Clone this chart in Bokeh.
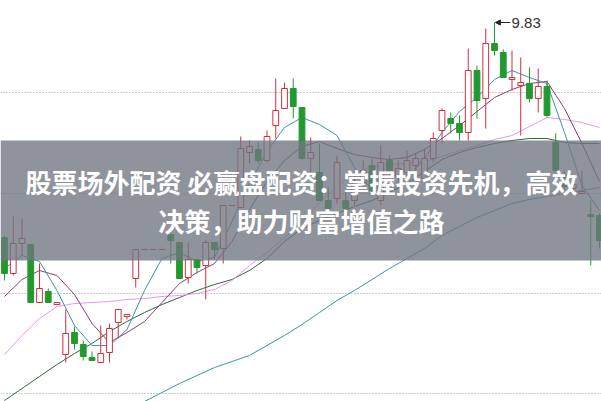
from bokeh.plotting import figure
from bokeh.models import Range1d, FixedTicker, BoxAnnotation, Label, Arrow, NormalHead, ColumnDataSource
from bokeh.embed import file_html
from bokeh.resources import INLINE

# ---- candle data (price units) ----
opens = [8.755, 8.575, 8.725, 8.72, 8.43, 8.485, 8.42, 8.17, 8.28, 8.22,
         8.155, 8.13, 8.18, 8.33, 8.36, 8.55, 8.695, 8.695, 8.695, 8.77,
         8.73, 8.555, 8.645, 8.615, 8.73, 8.70, 8.915, 8.905, 9.18, 9.195,
         9.14, 9.315, 9.40, 9.50, 9.405, 9.15, 9.08, 8.94, 8.95, 8.94,
         8.94, 9.03, 9.115, 8.94, 9.14, 9.06, 9.08, 9.115, 9.05, 9.15,
         9.29, 9.35, 9.325, 9.28, 9.59, 9.45, 9.725, 9.68, 9.545, 9.515,
         9.525, 9.45, 9.51, 9.23, 9.07, 9.00, 8.975, 8.87, 8.865]
highs = [8.765, 8.865, 8.85, 8.72, 8.625, 8.50, 8.43, 8.395, 8.31, 8.24,
         8.185, 8.315, 8.325, 8.395, 8.37, 8.695, 8.695, 8.695, 8.695, 8.795,
         8.73, 8.73, 8.645, 8.745, 8.73, 8.915, 8.915, 9.26, 9.24, 9.23,
         9.29, 9.55, 9.53, 9.55, 9.405, 9.255, 9.225, 9.005, 9.165, 8.99,
         9.09, 9.14, 9.15, 9.215, 9.165, 9.14, 9.19, 9.175, 9.20, 9.28,
         9.40, 9.38, 9.365, 9.70, 9.615, 9.80, 9.83, 9.695, 9.69, 9.655,
         9.605, 9.60, 9.54, 9.275, 9.085, 9.04, 9.09, 8.94, 8.875]
lows = [8.54, 8.565, 8.665, 8.43, 8.43, 8.43, 8.42, 8.13, 8.195, 8.14,
        8.14, 8.13, 8.13, 8.25, 8.345, 8.505, 8.695, 8.695, 8.695, 8.625,
        8.55, 8.525, 8.575, 8.445, 8.645, 8.625, 8.915, 8.905, 9.125, 9.125,
        9.13, 9.25, 9.40, 9.35, 9.14, 9.075, 8.94, 8.89, 8.925, 8.79,
        8.915, 8.99, 8.965, 8.915, 9.065, 9.015, 9.05, 9.09, 9.04, 9.13,
        9.225, 9.275, 9.24, 9.24, 9.35, 9.30, 9.665, 9.555, 9.49, 9.265,
        9.43, 9.38, 9.355, 9.08, 8.99, 8.985, 8.97, 8.615, 8.70]
closes = [8.575, 8.725, 8.75, 8.43, 8.50, 8.43, 8.43, 8.275, 8.225, 8.16,
          8.14, 8.175, 8.30, 8.395, 8.37, 8.695, 8.695, 8.695, 8.695, 8.74,
          8.55, 8.645, 8.605, 8.73, 8.695, 8.915, 8.915, 9.20, 9.21, 9.14,
          9.26, 9.39, 9.50, 9.41, 9.15, 9.18, 8.94, 8.90, 9.13, 8.90,
          9.025, 9.09, 8.99, 9.13, 9.09, 9.10, 9.14, 9.15, 9.15, 9.25,
          9.39, 9.325, 9.28, 9.59, 9.44, 9.725, 9.69, 9.555, 9.555, 9.53,
          9.45, 9.51, 9.365, 9.09, 9.01, 9.02, 8.985, 8.86, 8.74]

# ---- moving averages ----
ma_idx = list(range(0, 69, 2))
ma5 = [8.60, 8.665, 8.635, 8.49, 8.315, 8.215, 8.215, 8.295, 8.49, 8.65,
       8.68, 8.635, 8.655, 8.835, 9.025, 9.185, 9.305, 9.355, 9.32, 9.265,
       9.105, 8.99, 8.98, 9.05, 9.15, 9.28, 9.385, 9.455, 9.545, 9.59,
       9.555, 9.525, 9.28, 9.015, 8.89]
ma10 = [8.46, 8.545, 8.59, 8.565, 8.47, 8.325, 8.23, 8.28, 8.335, 8.43,
        8.525, 8.58, 8.625, 8.735, 8.895, 9.035, 9.14, 9.21, 9.235, 9.20,
        9.17, 9.155, 9.145, 9.155, 9.195, 9.25, 9.315, 9.385, 9.455, 9.495,
        9.525, 9.535, 9.40, 9.225, 9.035]
ma20 = [8.17, 8.265, 8.35, 8.41, 8.425, 8.43, 8.435, 8.445, 8.45, 8.46,
        8.465, 8.475, 8.495, 8.54, 8.615, 8.68, 8.755, 8.835, 8.93, 9.01,
        9.08, 9.11, 9.12, 9.125, 9.135, 9.16, 9.19, 9.215, 9.245, 9.265,
        9.31, 9.355, 9.345, 9.33, 9.305]
ma30 = [7.94, 8.00, 8.06, 8.12, 8.175, 8.225, 8.285, 8.335, 8.38, 8.42,
        8.455, 8.49, 8.52, 8.545, 8.59, 8.65, 8.735, 8.80, 8.84, 8.875,
        8.91, 8.94, 8.98, 9.025, 9.085, 9.145, 9.18, 9.205, 9.225, 9.24,
        9.25, 9.25, 9.23, 9.225, 9.225]
ma60_idx = list(range(14, 69, 2))
ma60 = [7.89, 7.935, 7.98, 8.025, 8.065, 8.105, 8.135, 8.165, 8.215, 8.265,
        8.32, 8.38, 8.44, 8.49, 8.545, 8.60, 8.65, 8.70, 8.765, 8.81,
        8.855, 8.89, 8.925, 8.945, 8.96, 8.975, 8.99, 9.005]

grid_levels = [9.48, 8.975, 8.475, 7.975]
high_label = "9.83"
title_line1 = "股票场外配资 必赢盘配资：掌握投资先机，高效"
title_line2 = "决策，助力财富增值之路"

RED = "#d2303e"
GREEN = "#22992e"

p = figure(width=601, height=401, output_backend="svg", toolbar_location=None,
           x_range=Range1d(-0.457, 68.229), y_range=Range1d(7.935, 9.94),
           min_border=0)
p.xaxis.visible = False
p.yaxis.visible = False
p.xgrid.visible = False
p.ygrid.ticker = FixedTicker(ticks=grid_levels)
p.ygrid.grid_line_color = "#9a9a9a"
p.ygrid.grid_line_dash = "1 2"
p.ygrid.grid_line_width = 1
p.outline_line_color = None
p.background_fill_color = "white"
p.border_fill_color = "white"

idx = list(range(len(opens)))
colors = [RED if c >= o else GREEN for o, c in zip(opens, closes)]
fills = ["white" if c >= o else GREEN for o, c in zip(opens, closes)]
tops = [max(o, c) for o, c in zip(opens, closes)]
bots = [min(o, c) for o, c in zip(opens, closes)]

src = ColumnDataSource(dict(x=idx, o=opens, h=highs, l=lows, c=closes,
                            color=colors, fill=fills, top=tops, bot=bots))

# moving averages
p.line(ma60_idx, ma60, line_color="#3f95a6", line_width=1)
p.line(ma_idx, ma30, line_color="#2f6a3c", line_width=1)
p.line(ma_idx, ma20, line_color="#e49be6", line_width=1)
p.line(ma_idx, ma10, line_color="#8c3d7f", line_width=1)
p.line(ma_idx, ma5, line_color="#3d96a8", line_width=1)

# candles
p.segment(x0="x", y0="h", x1="x", y1="l", line_color="color", line_width=1, source=src)
flat = [i for i in idx if opens[i] == closes[i]]
body = [i for i in idx if opens[i] != closes[i]]
bsrc = ColumnDataSource(dict(x=[idx[i] for i in body], top=[tops[i] for i in body],
                             bot=[bots[i] for i in body], color=[colors[i] for i in body],
                             fill=[fills[i] for i in body]))
p.vbar(x="x", top="top", bottom="bot", width=0.66, fill_color="fill",
       line_color="color", line_width=1, source=bsrc)
fsrc = ColumnDataSource(dict(x0=[idx[i] - 0.36 for i in flat], x1=[idx[i] + 0.36 for i in flat],
                             y=[closes[i] for i in flat]))
p.segment(x0="x0", y0="y", x1="x1", y1="y", line_color=RED, line_width=1, source=fsrc)

# high marker
hi_i = max(idx, key=lambda i: highs[i])
p.add_layout(Arrow(end=NormalHead(size=5, fill_color="#222222", line_color="#222222"),
                   x_start=hi_i + 1.8, y_start=highs[hi_i], x_end=hi_i + 0.1, y_end=highs[hi_i],
                   line_color="#222222", line_width=1))
p.add_layout(Label(x=hi_i + 1.95, y=highs[hi_i], text=high_label, text_font="Liberation Sans",
                   text_font_size="15px", text_color="#333333", text_baseline="middle"))

# banner
p.add_layout(BoxAnnotation(top=9.24, bottom=8.64, fill_color="#70757f", fill_alpha=0.78,
                           line_color=None, level="overlay"))
p.add_layout(Label(x=33.94, y=9.035, text=title_line1, text_font="Noto Sans CJK SC",
                   text_font_style="bold", text_font_size="26px", text_color="white",
                   text_align="center", text_baseline="middle", level="overlay"))
p.add_layout(Label(x=33.94, y=8.84, text=title_line2, text_font="Noto Sans CJK SC",
                   text_font_style="bold", text_font_size="26px", text_color="white",
                   text_align="center", text_baseline="middle", level="overlay"))

open("out.html", "w").write(file_html(p, INLINE))
